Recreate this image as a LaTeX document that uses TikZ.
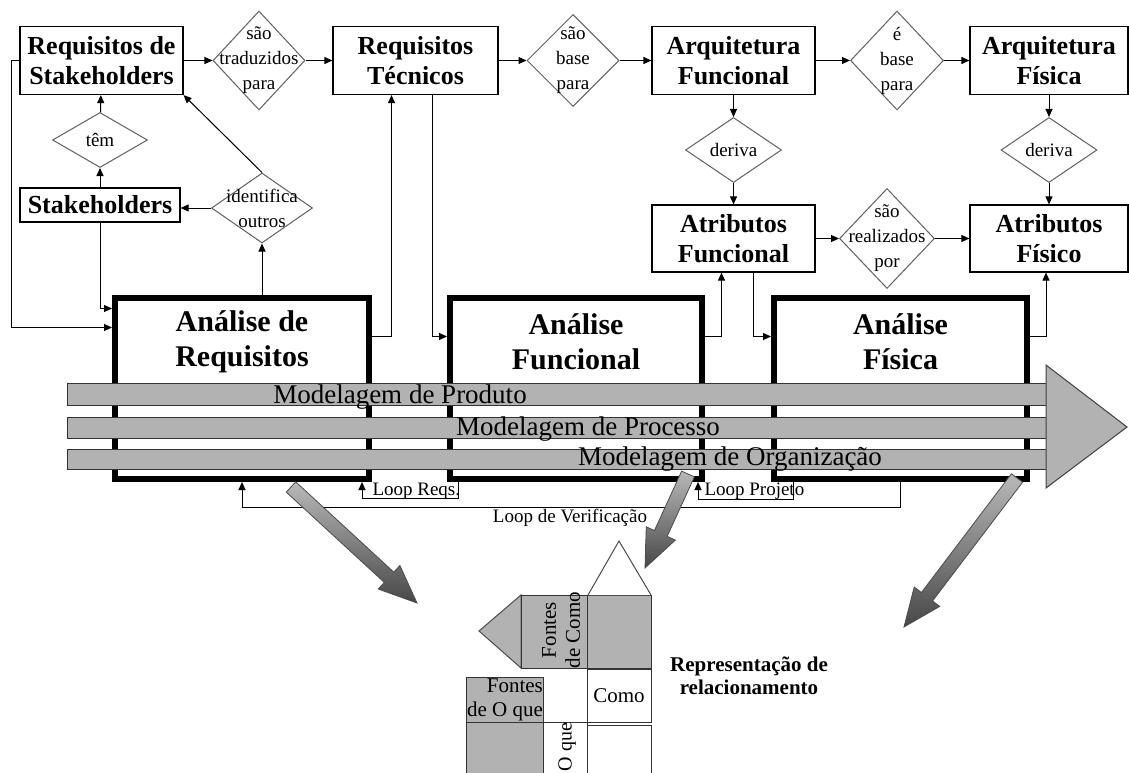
\documentclass[tikz,border=0pt]{standalone}
\usepackage{fontspec}
\setmainfont{Liberation Serif}
\usetikzlibrary{shapes.geometric,arrows.meta,calc}

\tikzset{
  box/.style={draw, line width=1.2pt, fill=white, inner sep=0pt, align=center,
    minimum width=163pt, minimum height=68pt,
    font=\fontsize{26}{30}\selectfont\bfseries},
  dia/.style={diamond, draw=gray!75!black, line width=1pt, fill=white, inner sep=0pt,
    minimum width=94pt, minimum height=99pt},
  diatext/.style={align=center, inner sep=0pt, font=\fontsize{19}{25}\selectfont},
  bigbox/.style={draw, line width=6pt, fill=white, inner sep=0pt,
    minimum width=254pt, minimum height=181pt},
  title/.style={align=center, inner sep=0pt, font=\fontsize{30}{35}\selectfont\bfseries},
  bar/.style={draw=black!80, line width=1pt, fill=gray!60},
  bartext/.style={anchor=base, inner sep=0pt, font=\fontsize{27}{30}\selectfont},
  looptext/.style={inner sep=0pt, font=\fontsize{19}{22}\selectfont},
  cell/.style={draw=black!80, line width=1pt},
  celltext/.style={align=center, inner sep=0pt, font=\fontsize{21}{24}\selectfont},
}

% grey block arrow from #1 to #2
\newcommand\blockarrow[2]{%
  \coordinate (hb) at ($(#2)!38pt!(#1)$);
  \shade[draw=gray!60!black, line width=.8pt, top color=gray!55, bottom color=black!72]
    ($(#1)!7pt!90:(#2)$) -- ($(hb)!7pt!90:(#2)$) -- ($(hb)!16pt!90:(#2)$)
    -- (#2) -- ($(hb)!16pt!-90:(#2)$) -- ($(hb)!7pt!-90:(#2)$)
    -- ($(#1)!7pt!-90:(#2)$) -- cycle;
}

\begin{document}
\begin{tikzpicture}[x=1pt, y=-1pt, line width=1pt,
  >={Triangle[length=8pt,width=7pt]}]
\useasboundingbox (0,0) rectangle (1129,773);

% top row
\node[box] (rs) at (101.5,60.5) {Requisitos de\\Stakeholders};
\node[dia, minimum width=92pt] (d1) at (259,60.5) {};
\node[diatext] (d1t) at (d1) {são\\traduzidos\\para};
\node[box, minimum width=165pt] (rt) at (415.5,60.5) {Requisitos\\Técnicos};
\node[dia, minimum width=92pt, minimum height=92pt] (d2) at (573,60.5) {};
\node[diatext] (d2t) at (d2) {são\\base\\para};
\node[box] (af) at (733.5,60.5) {Arquitetura\\Funcional};
\node[dia, minimum width=93pt] (d3) at (897,60.5) {};
\node[diatext] (d3t) at (d3) {é\\base\\para};
\node[box, minimum width=158pt] (afis) at (1049,60.5) {Arquitetura\\Física};

% derived attributes
\node[dia, minimum width=96pt, minimum height=65pt] (d4) at (733.5,150) {};
\node[diatext] (d4t) at (d4) {deriva};
\node[dia, minimum width=96pt, minimum height=65pt] (d5) at (1049,150) {};
\node[diatext] (d5t) at (d5) {deriva};
\node[box, minimum height=67pt] (atf) at (733.5,238.5) {Atributos\\Funcional};
\node[dia, minimum width=95pt, minimum height=100pt] (d6) at (887,238.5) {};
\node[diatext] (d6t) at (d6) {são\\realizados\\por};
\node[box, minimum width=158pt, minimum height=67pt] (atfis) at (1049,238.5) {Atributos\\Físico};

% stakeholders
\node[box, minimum width=160pt, minimum height=34pt] (st) at (100,205) {Stakeholders};
\node[dia, minimum width=95pt, minimum height=55pt] (d7) at (100,140) {};
\node[diatext] (d7t) at (d7) {têm};
\node[dia, minimum width=101pt, minimum height=70pt] (d8) at (262,208) {};
\node[diatext] (d8t) at (d8) {identifica\\outros};

\draw[->] (rs) -- (d1);
\draw[->] (d1) -- (rt);
\draw[->] (rt) -- (d2);
\draw[->] (d2) -- (af);
\draw[->] (af) -- (d3);
\draw[->] (d3) -- (afis);
\draw[->] (af) -- (d4);
\draw[->] (d4) -- (atf);
\draw[->] (afis) -- (d5);
\draw[->] (d5) -- (atfis);
\draw[->] (atf) -- (d6);
\draw[->] (d6) -- (atfis);
\draw[->] (st) -- (d7);
\draw[->] (d7) -- (rs);
\draw[->] (d8) -- (st.east |- d8);
\draw[->] (d8.north) -- (rs.south east);

% analysis boxes
\node[bigbox] (ar) at (242,388.5) {};
\node[bigbox, minimum width=252pt] (afn) at (576,388.5) {};
\node[bigbox, minimum width=253pt] (afs) at (900.5,388.5) {};
\node[title] (art) at (242,342) {Análise de\\Requisitos};
\node[title] (afnt) at (576,342) {Análise\\Funcional};
\node[title] (afst) at (900.5,342) {Análise\\Física};

\draw[->] (rs.west) -- ++(-8,0) |- ([yshift=61pt]ar.west);
\draw[->] (st.south) |- ([yshift=80pt]ar.west);
\draw[->] (ar.north -| d8) -- (d8);
\draw[->] ([yshift=52pt]ar.east) -| ([xshift=-24pt]rt.south);
\draw[->] ([xshift=17pt]rt.south) |- ([yshift=52pt]afn.west);
\draw[->] ([yshift=52pt]afn.east) -| ([xshift=-12pt]atf.south);
\draw[->] ([xshift=20pt]atf.south) |- ([yshift=52pt]afs.west);
\draw[->] ([yshift=52pt]afs.east) -| ([xshift=-3pt]atfis.south);

% modelling bars
\foreach \ya/\yb in {383/405, 417/438, 449/469}
  \draw[bar] (67,\ya) rectangle (1046,\yb);
\draw[bar, draw=gray!50!black] (1046,365) -- (1127,427) -- (1046,488) -- cycle;
\node[bartext] (mpd) at (400,403) {Modelagem de Produto};
\node[bartext] (mpc) at (588,435) {Modelagem de Processo};
\node[bartext] (mor) at (730,465) {Modelagem de Organização};

% loops
\draw[->] ([xshift=-118pt]afn.south) -- ++(0,16) -| ([xshift=120pt]ar.south);
\node[looptext, anchor=base west] (lreq) at (372,495) {Loop Reqs.};
\draw[->] ([xshift=-107.5pt]afs.south) -- ++(0,17) -| ([xshift=122pt]afn.south);
\node[looptext, anchor=base west] (lproj) at (704,495) {Loop Projeto};
\draw[->] (afs.south) -- ++(0,25) -| (ar.south);
\node[looptext, anchor=base] (lver) at (570,522) {Loop de Verificação};

% arrows down to the relationship matrix
\coordinate (g1a) at (291,487);
\coordinate (g1b) at (417,603);
\coordinate (g2a) at (688,474);
\coordinate (g2b) at (645,568);
\coordinate (g3a) at (1017,478);
\coordinate (g3b) at (904,627);
\blockarrow{g1a}{g1b}
\blockarrow{g2a}{g2b}
\blockarrow{g3a}{g3b}

% relationship matrix
\draw[cell, draw=gray!60!black, fill=gray!60] (479,631) -- (521,595) -- (521,668) -- cycle;
\draw[cell, fill=gray!60] (521,595) rectangle (587,668);
\draw[cell, fill=gray!60] (587,595) rectangle (651,668);
\draw[cell, draw=gray!60!black, fill=white] (588,595) -- (619,541) -- (651,595);
\draw[cell, fill=gray!60] (466,677) rectangle (543,722);
\draw[cell, fill=gray!60] (466,722) rectangle (543,778);
\draw[cell] (543,722) rectangle (587,778);
\draw[cell] (587,669) rectangle (651,722);
\draw[cell] (587,725) rectangle (651,778);
\node[celltext, rotate=90] (fcomo) at (561,630) {Fontes\\de Como};
\node[celltext] (como) at (619,696) {Como};
\node[celltext, align=right] (foque) at (505,700) {Fontes\\de O que};
\node[celltext, rotate=90, font=\fontsize{20}{24}\selectfont] (oque) at (567,747) {O que};
\node[align=center, inner sep=0pt, font=\fontsize{21}{23}\selectfont\bfseries]
  (rel) at (749,676) {Representação de\\relacionamento};
\end{tikzpicture}
\end{document}
